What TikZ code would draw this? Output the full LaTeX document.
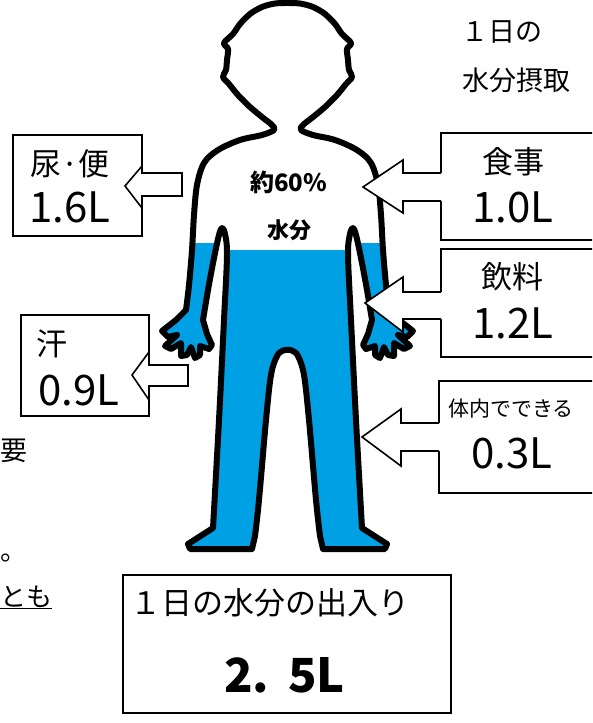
\documentclass[tikz,border=0pt]{standalone}
\usepackage{fontspec}
\setmainfont{Noto Sans CJK JP}
\definecolor{water}{RGB}{0,160,228}
\newcommand\fsz[1]{\fontsize{#1}{#1}\selectfont}

% left half of the figure outline, from the top of the head down to the crotch
\def\lefthalf{plot[smooth,tension=.55] coordinates {(287.5,3) (275,3.5) (262,7) (250,14) (240,24) (233,34) (224,43) (228,49) (227,60) (226,70) (223,77) (229,84) (238,95) (250,107) (262,117) (272,125) (274,130) (262,135) (240,140) (218,150) (204,163) (197,185) (194,215) (192,250) (189,285) (186,310)}
  -- (176,320) -- (162,331) -- (168,337) -- (177,335) -- (165,346) -- (171,349) -- (181,343) -- (181,356) -- (187,355) -- (191,347) -- (195,358) -- (200,355) -- (200,346) -- (209,349) -- (212,345) -- (207,334) -- (203,320)
  -- plot[smooth,tension=.55] coordinates {(203,320) (208,290) (214,258) (219,235) (222,228) (225,234) (227,255) (224,320) (219,420) (213,528)}
  -- (188,544) -- (190,549) -- (252,549) -- (255,536)
  -- plot[smooth,tension=.55] coordinates {(255,536) (259,500) (266,420) (271,375) (277,356) (283,350.5) (287.5,350)}}

\begin{document}
\begin{tikzpicture}[x=1pt,y=-1pt,
  frame/.style={draw=black, line width=2pt, fill=white, inner sep=0pt, outer sep=0pt},
  lbl/.style={inner sep=0pt, anchor=base},
  lblw/.style={inner sep=0pt, anchor=base west},
  kanji/.style={font=\fsz{31}},
  digits/.style={font=\fsz{42}},
  arrowfill/.style={fill=white},
  arrowline/.style={draw=black, line width=1.6pt, line join=miter},
  bodyline/.style={draw=black, line width=6pt, line join=round, line cap=round},
]
\useasboundingbox (0,0) rectangle (592,723);
\clip (0,0) rectangle (592,723);

% boxes
\node[frame, minimum width=129pt, minimum height=101pt] (urine) at (77.5,185.5) {};
\node[frame, minimum width=128pt, minimum height=101pt] (sweat) at (85,365.5) {};
\node[frame, minimum width=159pt, minimum height=107pt] (food) at (520.5,186.5) {};
\node[frame, minimum width=159pt, minimum height=108pt] (drink) at (520.5,303) {};
\node[frame, minimum width=161pt, minimum height=112pt] (made) at (519.5,437) {};
\node[frame, minimum width=328pt, minimum height=138pt] (total) at (287,644) {};

% water filling the lower part of the body
\begin{scope}
  \clip \lefthalf -- (290,350) -- (290,3) -- cycle;
  \fill[water] (150,250) rectangle (290,560);
  \fill[water] (150,243) rectangle (222,262);
\end{scope}
\begin{scope}[xshift=575pt, xscale=-1]
  \clip \lefthalf -- (290,350) -- (290,3) -- cycle;
  \fill[water] (150,250) rectangle (290,560);
  \fill[water] (150,243) rectangle (222,262);
\end{scope}

% body outline
\draw[bodyline] \lefthalf;
\begin{scope}[xshift=575pt, xscale=-1]
  \draw[bodyline] \lefthalf;
\end{scope}

% outgoing water: arrows into the left boxes
\draw[arrowline, arrowfill] (125,186) -- (142,166) -- (142,173) -- (182,173) -- (182,196) -- (142,196) -- (142,208) -- cycle;
\draw[arrowline, arrowfill] (132,375) -- (149,352) -- (149,365) -- (188,365) -- (188,386) -- (149,386) -- (149,400) -- cycle;

% incoming water: arrows from the right boxes
\fill[arrowfill] (443,173) -- (403,173) -- (403,160) -- (363,187) -- (403,213) -- (403,201) -- (443,201) -- cycle;
\draw[arrowline] (441,173) -- (403,173) -- (403,160) -- (363,187) -- (403,213) -- (403,201) -- (441,201);
\fill[arrowfill] (443,292) -- (403,292) -- (403,277) -- (365,303) -- (403,332) -- (403,319) -- (443,319) -- cycle;
\draw[arrowline] (441,292) -- (403,292) -- (403,277) -- (365,303) -- (403,332) -- (403,319) -- (441,319);
\fill[arrowfill] (441,423) -- (401,423) -- (401,409) -- (362,437) -- (401,466) -- (401,451) -- (441,451) -- cycle;
\draw[arrowline] (439,423) -- (401,423) -- (401,409) -- (362,437) -- (401,466) -- (401,451) -- (439,451);

% labels
\node[lblw, kanji] (t-urine) at (30,175) {尿·便};
\node[lblw, digits] (v-urine) at (29,222) {1.6L};
\node[lblw, kanji] (t-sweat) at (36,355) {汗};
\node[lblw, digits] (v-sweat) at (38,405) {0.9L};
\node[lbl, kanji] (t-food) at (513,173) {食事};
\node[lbl, digits] (v-food) at (513,222) {1.0L};
\node[lbl, kanji] (t-drink) at (512,288) {飲料};
\node[lbl, digits] (v-drink) at (513,338) {1.2L};
\node[lbl, font=\fsz{21}] (t-made) at (511,416) {体内でできる};
\node[lbl, digits] (v-made) at (512,468) {0.3L};
\node[lblw, font=\fsz{31}] (t-total) at (130,614) {１日の水分の出入り};
\node[lblw, font=\fsz{47}\bfseries] (v-total) at (224,692) {2.\kern.4em 5L};
\node[lbl, font=\fsz{24}\bfseries] (pct) at (288.5,191) {約60\%};
\node[lbl, font=\fsz{22}\bfseries] (pct-w) at (289,238) {水分};
\node[lblw, font=\fsz{27}] (intake-a) at (461,41) {１日の};
\node[lblw, font=\fsz{27}] (intake-b) at (462,90) {水分摂取};

% text running in from the left
\node[lblw, font=\fsz{27}] (side-a) at (0,460) {要};
\node[lblw, font=\fsz{27}] (side-b) at (0,560) {。};
\node[lblw, font=\fsz{26}] (side-c) at (0,606) {\underline{とも}};
\end{tikzpicture}
\end{document}
